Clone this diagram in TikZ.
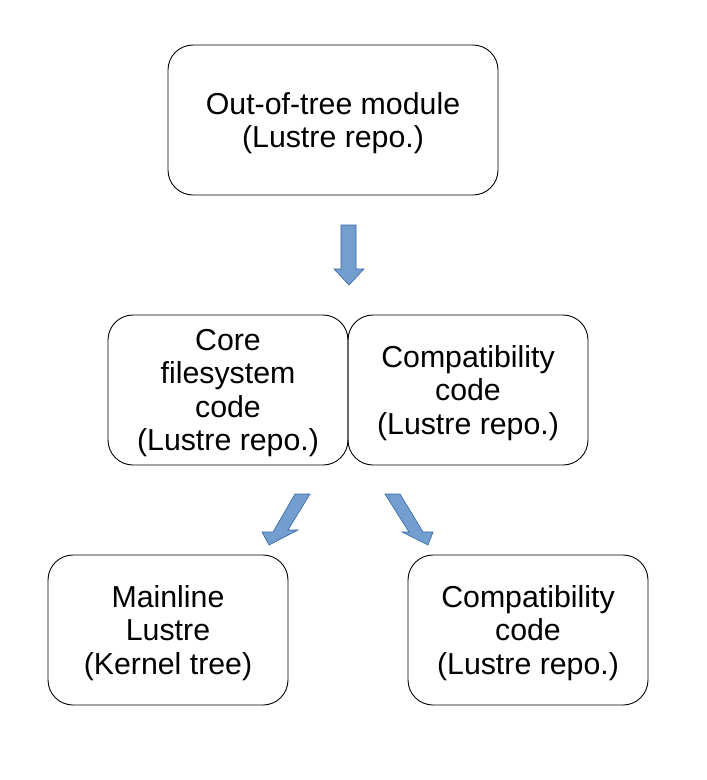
\documentclass[tikz,border=0pt]{standalone}
\usepackage{fontspec}
\setmainfont{Liberation Sans}
\definecolor{arrfill}{HTML}{729FCF}
\definecolor{arrdraw}{HTML}{3465A4}
\begin{document}
\begin{tikzpicture}[x=1pt,y=-1pt,
  box/.style={draw=black, line width=0.9pt, rounded corners=25pt, align=center,
    minimum width=240pt, minimum height=150pt, inner sep=0pt,
    font=\fontsize{30.3}{33.5}\selectfont},
  lbl/.style={align=center, inner sep=0pt, font=\fontsize{30.3}{33.5}\selectfont},
  bigarrow/.style={fill=arrfill, draw=arrdraw, line width=0.6pt, line join=miter}]
\useasboundingbox (0,0) rectangle (707,780);
\node[box, minimum width=330pt] (top) at (333,120) {};
\node[lbl] (topt) at (333,123) {Out-of-tree module\\(Lustre repo.)};
\node[box] (core) at (228,390) {};
\node[lbl] (coret) at (228,393) {Core\\filesystem\\code\\(Lustre repo.)};
\node[box] (compat) at (468,390) {};
\node[lbl] (compatt) at (468,393) {Compatibility\\code\\(Lustre repo.)};
\node[box] (main) at (168,630) {};
\node[lbl] (maint) at (168,633) {Mainline\\Lustre\\(Kernel tree)};
\node[box] (compat2) at (528,630) {};
\node[lbl] (compat2t) at (528,633) {Compatibility\\code\\(Lustre repo.)};
% arrows
\draw[bigarrow] (341,225) -- (356,225) -- (356,269) -- (364,269) -- (349,285) -- (334,269) -- (341,269) -- cycle;
\draw[bigarrow] (295,494) -- (310,494) -- (288,530) -- (298,530) -- (269,545) -- (262,532) -- (273,532) -- cycle;
\draw[bigarrow] (385,494) -- (400,494) -- (423,532) -- (433,532) -- (428,545) -- (402,532) -- (409,532) -- cycle;
\end{tikzpicture}
\end{document}
